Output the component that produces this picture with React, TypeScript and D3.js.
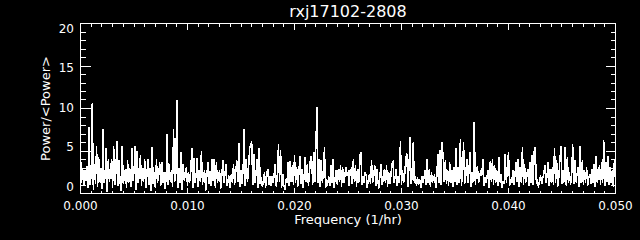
import React from "react";
import * as d3 from "d3";

const title = "rxj17102-2808";
const xLabel = "Frequency (1/hr)";
const yLabel = "Power/<Power>";
const xTickValues = [0, 0.01, 0.02, 0.03, 0.04, 0.05];
const xTickLabels = ["0.000", "0.010", "0.020", "0.030", "0.040", "0.050"];
const yTickValues = [0, 5, 10, 15, 20];
const yTickLabels = ["0", "5", "10", "15", "20"];
const freqStart = 0;
const freqStep = 0.0001;

// normalised power, one value per 0.0001 1/hr
const power0 = [
  4.5, 1.2, 3.0, 0.9, 2.8, 1.5, 3.2, 0.6, 7.8, 1.0,
  2.2, 10.7, 0.4, 3.5, 1.1, 5.6, 0.8, 4.3, 1.3, 3.0,
  0.5, 7.6, 1.2, 2.0, 5.3, 0.2, 4.0, 1.4, 2.2, 4.0,
  0.7, 5.6, 1.0, 2.4, 6.2, 0.9, 3.9, 1.3, 0.3, 5.6,
  1.1, 2.0, 2.9, 0.6, 3.9, 1.2, 3.0, 0.8, 5.3, 1.5,
  2.5, 5.6, 0.4, 5.0, 1.2, 2.3, 4.5, 0.9, 3.0, 1.4,
  4.0, 0.7, 2.1, 4.0, 1.0, 3.0, 0.3, 5.5, 1.1, 2.5,
  0.6, 4.0, 1.3, 2.0, 3.7, 0.9, 3.7, 1.2, 2.5, 0.5,
  1.8, 7.0, 1.0, 3.5, 1.3, 2.8, 0.8, 7.6, 1.4, 2.0,
  11.0, 0.7, 3.0, 1.2, 4.9, 0.4, 3.5, 1.5, 2.2, 3.1,
];
const power1 = [
  0.9, 2.5, 1.3, 2.4, 5.3, 0.6, 4.2, 1.2, 2.0, 4.2,
  0.8, 2.8, 1.4, 5.0, 1.0, 2.2, 2.7, 0.3, 1.9, 3.7,
  1.1, 2.6, 0.9, 4.0, 1.5, 4.0, 0.7, 3.7, 1.2, 2.1,
  2.7, 0.5, 2.0, 3.9, 1.3, 2.2, 3.5, 0.9, 1.5, 2.1,
  0.6, 2.3, 1.2, 3.5, 1.0, 2.4, 3.9, 1.4, 5.9, 0.8,
  2.7, 1.1, 2.9, 7.6, 0.9, 4.1, 1.3, 2.6, 5.3, 5.8,
  6.1, 1.0, 4.7, 1.2, 2.3, 4.0, 0.7, 5.3, 1.1, 1.9,
  0.8, 1.5, 2.5, 0.6, 2.3, 2.9, 1.0, 2.0, 0.9, 2.1,
  1.2, 2.3, 3.5, 0.8, 2.0, 5.8, 1.3, 5.1, 0.7, 2.3,
  1.0, 0.4, 1.7, 1.2, 3.7, 0.9, 3.8, 1.3, 3.3, 1.0,
];
const power2 = [
  4.5, 1.2, 3.1, 0.8, 2.2, 4.4, 1.1, 2.9, 0.7, 2.0,
  4.3, 1.3, 3.5, 0.9, 2.4, 4.3, 4.3, 1.0, 4.9, 1.4,
  5.8, 10.2, 1.2, 4.1, 0.8, 3.9, 1.3, 2.2, 5.5, 0.6,
  1.4, 1.1, 2.0, 0.9, 3.3, 1.2, 4.1, 0.7, 1.8, 2.7,
  1.0, 2.9, 1.3, 3.3, 0.8, 3.1, 1.2, 2.0, 3.1, 2.3,
  2.5, 0.9, 2.7, 2.9, 1.1, 4.0, 1.3, 3.3, 0.8, 2.9,
  1.2, 4.5, 4.9, 1.0, 2.1, 1.3, 2.5, 2.1, 0.7, 1.6,
  2.3, 1.1, 3.9, 1.2, 2.0, 3.3, 0.9, 2.9, 1.3, 0.6,
  2.3, 3.5, 1.0, 1.8, 2.9, 1.2, 3.3, 0.8, 2.5, 1.1,
  2.0, 3.5, 3.7, 1.3, 1.9, 2.9, 0.9, 2.1, 1.2, 6.2,
];
const power3 = [
  1.0, 2.7, 1.3, 2.2, 4.1, 4.7, 0.8, 3.1, 6.6, 1.1,
  2.0, 6.0, 1.2, 2.1, 0.9, 1.9, 1.0, 1.7, 0.7, 2.1,
  1.3, 1.8, 2.7, 1.0, 4.1, 1.2, 2.9, 0.8, 2.5, 1.3,
  1.9, 2.1, 0.6, 2.0, 4.7, 1.2, 5.1, 1.0, 6.0, 4.1,
  1.3, 3.9, 1.1, 2.7, 0.9, 3.7, 1.2, 2.7, 0.8, 3.1,
  1.3, 5.3, 1.0, 3.1, 1.2, 6.4, 0.9, 2.3, 6.0, 1.1,
  2.0, 4.0, 1.2, 2.5, 4.9, 0.8, 2.5, 1.3, 8.4, 1.0,
  2.9, 3.1, 1.2, 1.9, 2.7, 2.1, 4.1, 0.9, 1.9, 1.2,
  2.0, 2.7, 0.7, 3.8, 1.3, 4.1, 1.0, 3.3, 1.2, 2.7,
  0.9, 4.3, 1.3, 2.3, 0.6, 1.5, 1.1, 4.7, 1.2, 3.1,
];
const power4 = [
  4.9, 0.9, 1.7, 1.2, 2.7, 1.0, 2.1, 3.7, 1.3, 4.0,
  0.8, 3.1, 1.2, 5.5, 1.0, 3.5, 1.3, 2.0, 2.9, 0.9,
  3.7, 1.2, 4.5, 1.0, 4.9, 5.5, 1.3, 1.5, 0.7, 1.6,
  2.1, 1.1, 1.8, 2.3, 3.3, 1.2, 2.0, 3.7, 0.9, 2.9,
  1.3, 3.1, 1.0, 5.4, 1.2, 3.9, 0.8, 1.9, 3.9, 5.6,
  1.1, 2.7, 1.3, 5.5, 0.9, 4.3, 1.2, 2.5, 1.0, 2.0,
  5.8, 1.1, 3.9, 1.3, 2.2, 3.1, 0.8, 5.6, 1.2, 3.9,
  1.0, 2.7, 1.3, 3.1, 0.9, 1.8, 2.3, 1.1, 2.9, 1.2,
  3.5, 0.8, 4.4, 1.3, 2.1, 3.3, 1.0, 3.7, 1.2, 6.3,
  0.9, 3.7, 1.3, 4.4, 1.0, 3.1, 1.2, 2.7, 0.8, 4.1,
  1.5,
];
const power = [...power0, ...power1, ...power2, ...power3, ...power4];

const W = 640;
const H = 240;
const left = 80.5;
const right = 615.5;
const top = 23.5;
const bottom = 193.5;
const font = "'DejaVu Sans', sans-serif";

export default function App() {
  const x = d3.scaleLinear().domain([0, 0.05]).range([left, right]);
  const y = d3.scaleLinear().domain([0, 20]).range([bottom, top]);
  // tick-label placement (labels sit slightly inside the axis ends)
  const yLab = d3.scaleLinear().domain([0, 20]).range([190.5, 32.5]);
  const line = d3
    .line<number>()
    .x((_, i) => x(freqStart + i * freqStep))
    .y((d) => y(d));
  const xMinor = x.ticks(50);
  const yMinor = y.ticks(20);
  const xMajLen = 6, xMinLen = 3, yMajLen = 10, yMinLen = 5;
  return (
    <svg
      width={W}
      height={H}
      style={{ position: "absolute", left: 0, top: 0, display: "block" }}
    >
      <rect x={0} y={0} width={W} height={H} fill="#000" />
      <defs>
        <clipPath id="plotclip">
          <rect x={left} y={top} width={right - left} height={bottom - top} />
        </clipPath>
      </defs>
      <path
        d={line(power) || ""}
        fill="none"
        stroke="#fff"
        strokeWidth={1.5}
        shapeRendering="crispEdges"
        clipPath="url(#plotclip)"
      />
      <rect
        x={left}
        y={top}
        width={right - left}
        height={bottom - top}
        fill="none"
        stroke="#fff"
        strokeWidth={1}
        shapeRendering="crispEdges"
      />
      <g stroke="#fff" strokeWidth={1} shapeRendering="crispEdges">
        {xMinor.map((v, k) => {
          const major = xTickValues.some((t) => Math.abs(t - v) < 1e-9);
          const len = major ? xMajLen : xMinLen;
          const px = Math.round(x(v) - 0.5) + 0.5;
          return (
            <g key={"x" + k}>
              <line x1={px} x2={px} y1={bottom} y2={bottom - len} />
              <line x1={px} x2={px} y1={top} y2={top + len} />
            </g>
          );
        })}
        {yMinor.map((v, k) => {
          const major = yTickValues.includes(v);
          const len = major ? yMajLen : yMinLen;
          const py = Math.round(y(v) - 0.5) + 0.5;
          return (
            <g key={"y" + k}>
              <line x1={left} x2={left + len} y1={py} y2={py} />
              <line x1={right} x2={right - len} y1={py} y2={py} />
            </g>
          );
        })}
      </g>
      <g fill="#fff" fontFamily={font}>
        {xTickValues.map((v, k) => (
          <text key={"xl" + k} x={x(v)} y={210} fontSize={12} textAnchor="middle">
            {xTickLabels[k]}
          </text>
        ))}
        {yTickValues.map((v, k) => (
          <text
            key={"yl" + k}
            x={74}
            y={yLab(v)}
            fontSize={12}
            textAnchor="end"
          >
            {yTickLabels[k]}
          </text>
        ))}
        <text x={(left + right) / 2} y={224} fontSize={13} textAnchor="middle">
          {xLabel}
        </text>
        <text
          transform={`translate(50,${(top + bottom) / 2}) rotate(-90)`}
          fontSize={13}
          textAnchor="middle"
        >
          {yLabel}
        </text>
        <text x={(left + right) / 2} y={17} fontSize={16} textAnchor="middle">
          {title}
        </text>
      </g>
    </svg>
  );
}
